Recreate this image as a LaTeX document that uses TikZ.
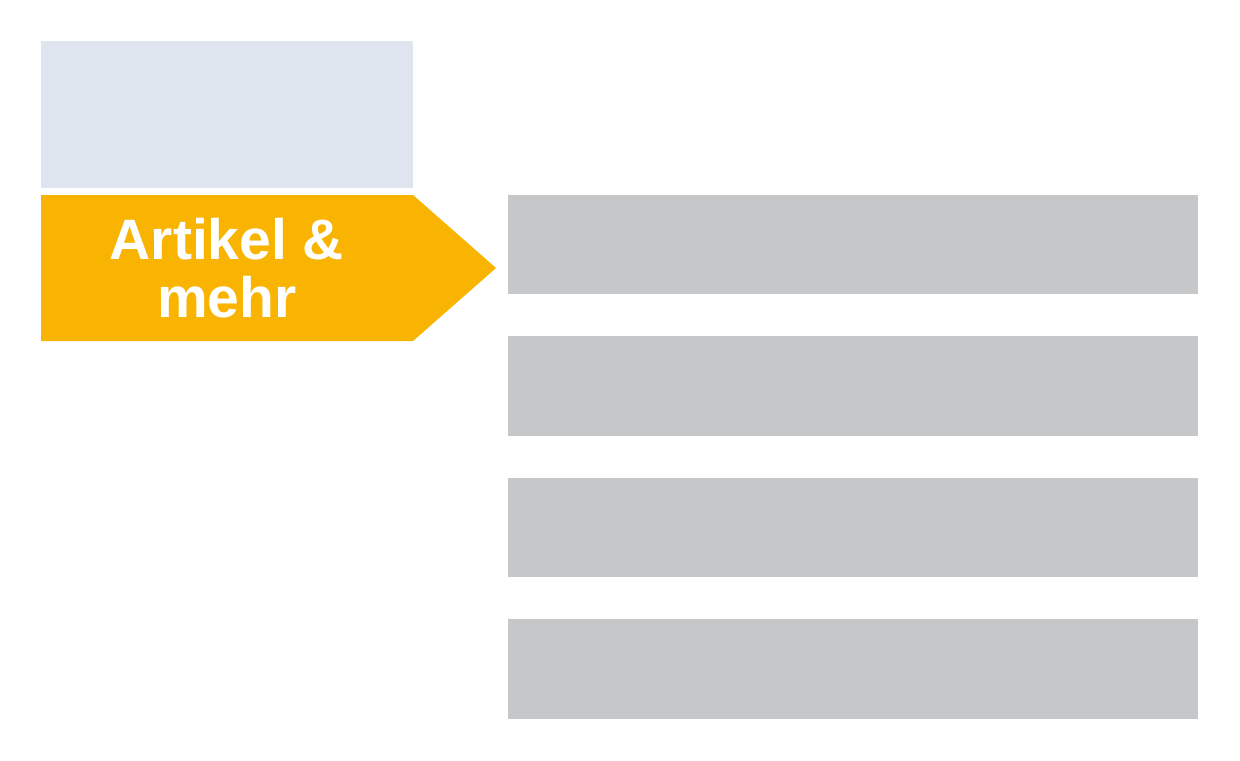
\documentclass[tikz,border=0pt]{standalone}
\usepackage{fontspec}
\setmainfont{Liberation Sans}
\definecolor{paleblue}{HTML}{DFE5EF}
\definecolor{amber}{HTML}{F8B400}
\definecolor{greybar}{HTML}{C6C7C9}
\tikzset{
  barbox/.style={fill=greybar, draw=none},
  labeltext/.style={text=white, font=\fontsize{42.75pt}{43.5pt}\selectfont\bfseries, align=center, inner sep=0pt}
}
\begin{document}
\begin{tikzpicture}[x=0.75pt, y=-0.75pt]
\useasboundingbox (0,0) rectangle (1240,761);
\fill[white] (0,0) rectangle (1240,761);
\fill[paleblue] (41,41) rectangle (413,188);
\fill[amber] (41,195) -- (413,195) -- (496,268) -- (413,341) -- (41,341) -- cycle;
\node[labeltext, anchor=base] (lbl) at (227,317) {Artikel \&\\mehr};
\fill[barbox] (508,195) rectangle (1198,294);
\fill[barbox] (508,336) rectangle (1198,436);
\fill[barbox] (508,478) rectangle (1198,577);
\fill[barbox] (508,619) rectangle (1198,719);
\end{tikzpicture}
\end{document}
